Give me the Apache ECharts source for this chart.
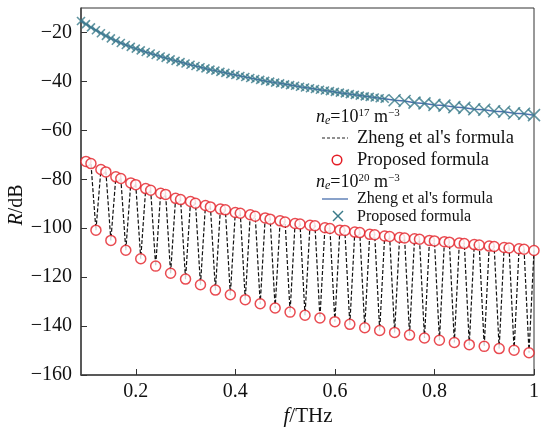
<!DOCTYPE html>
<html>
<head>
<meta charset="utf-8">
<script src="https://cdn.jsdelivr.net/npm/echarts@6/dist/echarts.min.js"></script>
<style>
  html, body { margin: 0; padding: 0; background: #fff; }
  #chart { width: 542px; height: 432px; }
</style>
</head>
<body>
<div id="chart"></div>
<script>
// n_e = 1e17 m^-3 : Zheng (dashed) passes through the proposed points (circles)
const freq17 = [
  0.10, 0.11, 0.12, 0.13, 0.14, 0.15, 0.16, 0.17, 0.18, 0.19,
  0.20, 0.21, 0.22, 0.23, 0.24, 0.25, 0.26, 0.27, 0.28, 0.29,
  0.30, 0.31, 0.32, 0.33, 0.34, 0.35, 0.36, 0.37, 0.38, 0.39,
  0.40, 0.41, 0.42, 0.43, 0.44, 0.45, 0.46, 0.47, 0.48, 0.49,
  0.50, 0.51, 0.52, 0.53, 0.54, 0.55, 0.56, 0.57, 0.58, 0.59,
  0.60, 0.61, 0.62, 0.63, 0.64, 0.65, 0.66, 0.67, 0.68, 0.69,
  0.70, 0.71, 0.72, 0.73, 0.74, 0.75, 0.76, 0.77, 0.78, 0.79,
  0.80, 0.81, 0.82, 0.83, 0.84, 0.85, 0.86, 0.87, 0.88, 0.89,
  0.90, 0.91, 0.92, 0.93, 0.94, 0.95, 0.96, 0.97, 0.98, 0.99,
  1.00
];
const r17 = [
  -72.7, -73.6, -100.8, -76.0, -77.0, -105.0, -79.0, -79.7, -109.0, -81.5,
  -82.2, -112.5, -83.8, -84.5, -115.5, -85.7, -86.2, -118.4, -87.8, -88.3,
  -120.8, -89.1, -89.8, -123.1, -90.7, -91.3, -125.3, -92.2, -92.5, -127.2,
  -93.6, -93.9, -129.2, -94.5, -95.1, -130.9, -95.8, -96.3, -132.6, -97.0,
  -97.5, -134.3, -98.1, -98.3, -135.6, -98.8, -99.0, -136.7, -99.8, -100.1,
  -138.2, -100.8, -100.9, -139.3, -101.6, -101.8, -140.7, -102.5, -102.7, -141.8,
  -103.2, -103.4, -142.6, -103.8, -104.0, -143.7, -104.3, -104.5, -144.9, -105.0,
  -105.2, -145.8, -105.5, -105.7, -146.7, -106.1, -106.3, -147.6, -106.7, -106.9,
  -148.3, -107.3, -107.5, -149.2, -107.9, -108.1, -149.9, -108.4, -108.6, -150.9,
  -109.1
];

// n_e = 1e20 m^-3 : Zheng (solid line) and proposed (crosses)
const freq20 = [
  0.09, 0.10, 0.11, 0.12, 0.13, 0.14, 0.15, 0.16, 0.17, 0.18, 0.19,
  0.20, 0.21, 0.22, 0.23, 0.24, 0.25, 0.26, 0.27, 0.28, 0.29,
  0.30, 0.31, 0.32, 0.33, 0.34, 0.35, 0.36, 0.37, 0.38, 0.39,
  0.40, 0.41, 0.42, 0.43, 0.44, 0.45, 0.46, 0.47, 0.48, 0.49,
  0.50, 0.51, 0.52, 0.53, 0.54, 0.55, 0.56, 0.57, 0.58, 0.59,
  0.60, 0.61, 0.62, 0.63, 0.64, 0.65, 0.66, 0.67, 0.68, 0.69,
  0.70, 0.72, 0.74, 0.76, 0.78, 0.80, 0.82, 0.84, 0.86, 0.88,
  0.90, 0.92, 0.94, 0.96, 0.98, 1.00
];
const r20 = [
  -15.3, -16.6, -17.9, -19.1, -20.3, -21.4, -22.4, -23.4, -24.3, -25.1, -25.9,
  -26.6, -27.3, -28.0, -28.6, -29.2, -29.8, -30.4, -31.0, -31.6, -32.1,
  -32.7, -33.2, -33.7, -34.2, -34.7, -35.2, -35.6, -36.1, -36.5, -37.0,
  -37.4, -37.8, -38.2, -38.6, -39.0, -39.4, -39.8, -40.1, -40.5, -40.8,
  -41.2, -41.5, -41.8, -42.2, -42.5, -42.8, -43.1, -43.4, -43.7, -44.0,
  -44.3, -44.6, -44.9, -45.2, -45.5, -45.8, -46.1, -46.3, -46.6, -46.9,
  -47.1, -47.7, -48.0, -48.7, -49.0, -49.6, -49.9, -50.5, -50.8, -51.4,
  -51.6, -52.2, -52.4, -53.0, -53.2, -53.8
];

const xTicks = [0.2, 0.4, 0.6, 0.8, 1];
const yTicks = [-160, -140, -120, -100, -80, -60, -40, -20];

const serif = "'Liberation Serif', 'DejaVu Serif', serif";
const red = '#e41e26';
const teal = '#3a7b89';
const blue = '#4a70ad';
const crossPath = 'path://M0,0L10,10M10,0L0,10';

const zip = (xs, ys) => xs.map((x, i) => [x, ys[i]]);
const minus = v => String(v).replace('-', '\u2212');

const chart = echarts.init(document.getElementById('chart'));

const legendText = (x, y, size, text) => ({
  type: 'text', x: x, y: y,
  style: { text: text, font: size + 'px ' + serif, fill: '#111', verticalAlign: 'middle' }
});
const neText = (x, y, pow) => ({
  type: 'text', x: x, y: y,
  style: {
    text: '{n|n}{e|e}{n0|=10}{s|' + pow + '}{n0| m}{s|\u22123}',
    fill: '#111', verticalAlign: 'middle',
    rich: {
      n: { font: 'italic 18px ' + serif, lineHeight: 22, verticalAlign: 'middle' },
      n0: { font: '18px ' + serif, lineHeight: 22, verticalAlign: 'middle' },
      e: { font: 'italic 12px ' + serif, lineHeight: 22, verticalAlign: 'bottom', padding: [0, 0, 1, 0] },
      s: { font: '11px ' + serif, lineHeight: 22, verticalAlign: 'top', padding: [2, 0, 0, 0] }
    }
  }
});

const option = {
  animation: false,
  backgroundColor: '#fff',
  grid: {
    left: 81, right: 3, top: 8, bottom: 57,
    show: true, borderColor: '#333', borderWidth: 1
  },
  xAxis: {
    type: 'value', min: 0.09, max: 1,
    axisLine: { show: true, lineStyle: { color: '#444', width: 1.5 } },
    axisTick: { inside: true, length: 6, customValues: xTicks, lineStyle: { color: '#333' } },
    axisLabel: {
      customValues: xTicks, margin: 7, color: '#111',
      fontFamily: serif, fontSize: 20, formatter: v => String(v)
    },
    splitLine: { show: false }
  },
  yAxis: {
    type: 'value', min: -160, max: -10,
    axisLine: { show: true, lineStyle: { color: '#444', width: 1.5 } },
    axisTick: { inside: true, length: 6, customValues: yTicks, lineStyle: { color: '#333' } },
    axisLabel: {
      customValues: yTicks, margin: 9, color: '#111',
      fontFamily: serif, fontSize: 20, formatter: minus
    },
    splitLine: { show: false }
  },
  graphic: [
    {
      type: 'text', x: 17, y: 205, rotation: Math.PI / 2,
      style: {
        text: '{i|R}/dB', font: '20px ' + serif, fill: '#111',
        align: 'center', verticalAlign: 'middle',
        rich: { i: { font: 'italic 20px ' + serif } }
      }
    },
    {
      type: 'text', x: 308, y: 416,
      style: {
        text: '{i|f}/THz', font: '21px ' + serif, fill: '#111',
        align: 'center', verticalAlign: 'middle',
        rich: { i: { font: 'italic 21px ' + serif } }
      }
    },
    neText(316, 117, '17'),
    { type: 'line', shape: { x1: 322, y1: 138, x2: 348, y2: 138 },
      style: { stroke: '#222', lineWidth: 1.2, lineDash: [3, 2] } },
    legendText(357, 138, 18.5, "Zheng et al's formula"),
    { type: 'circle', shape: { cx: 337, cy: 160, r: 4.8 },
      style: { fill: '#fff', stroke: red, lineWidth: 1.5 } },
    legendText(357, 160, 18.5, 'Proposed formula'),
    neText(316, 182, '20'),
    { type: 'line', shape: { x1: 322, y1: 199, x2: 348, y2: 199 },
      style: { stroke: blue, lineWidth: 1.3 } },
    legendText(357, 199, 16, "Zheng et al's formula"),
    { type: 'polyline', shape: { points: [[333, 211], [343, 221]] },
      style: { stroke: teal, lineWidth: 1.5 } },
    { type: 'polyline', shape: { points: [[343, 211], [333, 221]] },
      style: { stroke: teal, lineWidth: 1.5 } },
    legendText(357, 217, 16, 'Proposed formula')
  ],
  series: [
    {
      name: "Zheng 1e17", type: 'line', data: zip(freq17, r17),
      showSymbol: false, symbol: 'none',
      lineStyle: { color: '#111', width: 1.2, type: [4, 2] },
      z: 2
    },
    {
      name: 'Proposed 1e17', type: 'scatter', data: zip(freq17, r17),
      symbol: 'circle', symbolSize: 10,
      itemStyle: { color: '#fff', borderColor: red, borderWidth: 1.5 },
      z: 3
    },
    {
      name: "Zheng 1e20", type: 'line', data: zip(freq20, r20),
      showSymbol: false, symbol: 'none',
      lineStyle: { color: blue, width: 1.5 },
      z: 2
    },
    {
      name: 'Proposed 1e20', type: 'scatter', data: zip(freq20, r20),
      symbol: crossPath,
      symbolSize: v => (v[0] > 0.705 ? 12 : 8),
      itemStyle: { color: 'none', borderColor: teal, borderWidth: 1.6 },
      z: 3
    }
  ]
};

chart.setOption(option);
</script>
</body>
</html>
